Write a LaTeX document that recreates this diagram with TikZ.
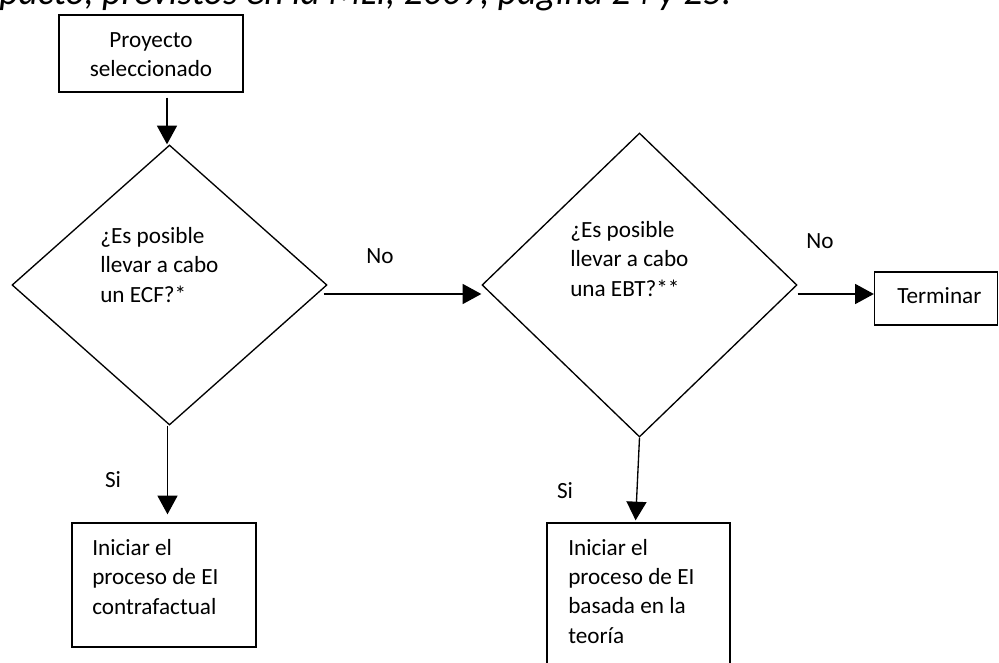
\documentclass[tikz,border=0pt]{standalone}
\usepackage{fontspec}
\setmainfont{Carlito}
\usetikzlibrary{arrows.meta,shapes.geometric,calc}
\newcommand\lblfont{\fontsize{17.4}{21.9}\selectfont}
\begin{document}
\begin{tikzpicture}[x=0.75pt,y=-0.75pt,
  ln/.style={line width=1pt},
  boxnode/.style={draw,ln,inner sep=0pt},
  dia/.style={draw,ln,diamond,inner sep=0pt,minimum width=236.25pt},
  txt/.style={inner sep=0pt,font=\lblfont,align=left,anchor=base west},
  arr/.style={ln,-{Triangle[width=15pt,length=14pt]}}]
\useasboundingbox (0,0) rectangle (999,663);
\clip (0,0) rectangle (999,663);
\fill[white] (0,0) rectangle (999,663);
% cut-off caption line at top
\node[inner sep=0pt,anchor=base west,font=\fontsize{28.2}{32}\selectfont\itshape] (cap) at (-1,5) {pacto, previstos en la MLI, 2009, página 24 y 25.};
% boxes
\node[boxnode,minimum width=138pt,minimum height=57.75pt] (p) at (151,53.5) {};
\node[inner sep=0pt,font=\lblfont,align=center,anchor=base] (ptext) at (151,77) {Proyecto\\seleccionado};
\node[dia,minimum height=210pt] (d1) at (169.5,285) {};
\node[dia,minimum height=228pt] (d2) at (639.5,285) {};
\node[txt] (d1t) at (100,302) {¿Es posible\\llevar a cabo\\un ECF?*};
\node[txt] (d2t) at (570,296) {¿Es posible\\llevar a cabo\\una EBT?**};
\node[boxnode,minimum width=92.25pt,minimum height=39.75pt] (term) at (936,298.5) {};
\node[txt] (termt) at (897,303) {Terminar};
\node[boxnode,minimum width=138pt,minimum height=93pt] (b1) at (164,585) {};
\node[txt] (b1t) at (92,614) {Iniciar el\\proceso de EI\\contrafactual};
\node[boxnode,minimum width=137.25pt,minimum height=132.75pt] (b2) at (638.5,611.5) {};
\node[txt] (b2t) at (568,643) {Iniciar el\\proceso de EI\\basada en la\\teoría};
% labels
\node[inner sep=0pt,font=\lblfont,anchor=base] (no1) at (380,263) {No};
\node[inner sep=0pt,font=\lblfont,anchor=base] (no2) at (820,248) {No};
\node[inner sep=0pt,font=\lblfont,anchor=base] (si1) at (113,487) {Si};
\node[inner sep=0pt,font=\lblfont,anchor=base] (si2) at (565,498) {Si};
% connectors
\coordinate (a1) at ([xshift=12pt,yshift=-3.75pt]p.south);
\coordinate (a2) at ([xshift=-3pt,yshift=-6.75pt]d1.east);
\coordinate (a3) at ([yshift=-6.75pt]d2.east);
\draw[arr] (a1) -- (a1 |- d1.north);
\draw[arr] (a2) -- (d2.west |- a2);
\draw[arr] (a3) -- (term.west |- a3);
\draw[arr,shorten >=6pt] ([xshift=-1.5pt]d1.south) -- ([xshift=-1.5pt]d1.south |- b1.north);
\draw[arr,shorten >=1.5pt] (d2.south) -- ([xshift=-2.25pt]b2.north);
\end{tikzpicture}
\end{document}
